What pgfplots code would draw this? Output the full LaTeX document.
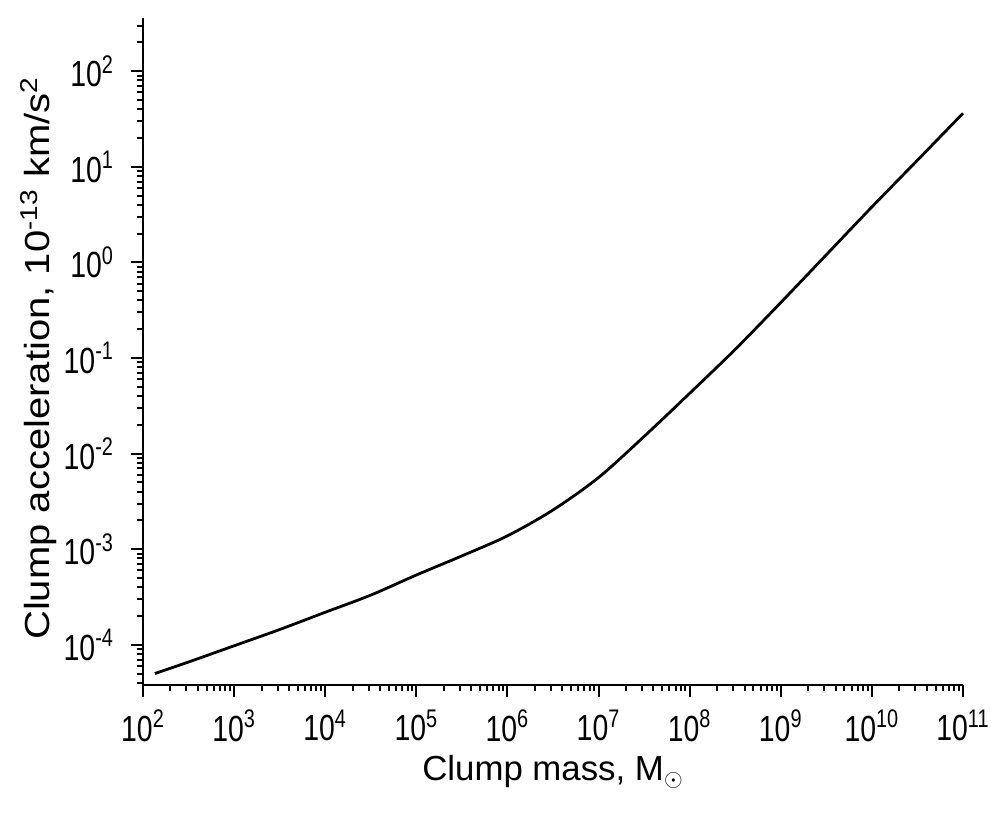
\documentclass[border=0pt]{standalone}
\usepackage{pgfplots}
\pgfplotsset{compat=1.18}
\usepackage{fontspec}
\setmainfont{Liberation Sans}
\begin{document}
\begin{tikzpicture}
\begin{axis}[
  at={(0,0)}, anchor=south west,
  scale only axis,
  width=410pt, height=333.5pt,
  xmode=log, ymode=log,
  log basis x=10, log basis y=10,
  xmin=1e2, xmax=1e11,
  ymin=3.8e-5, ymax=360,
  axis lines=left,
  axis line style={-, line width=1.3pt},
  tick align=outside,
  major tick length=6pt,
  minor tick length=3pt,
  every tick/.style={black, line width=1pt},
  xtick={1e2,1e3,1e4,1e5,1e6,1e7,1e8,1e9,1e10,1e11},
  ytick={1e-4,1e-3,1e-2,1e-1,1,1e1,1e2},
  minor xtick={2e2,3e2,4e2,5e2,6e2,7e2,8e2,9e2,
    2e3,3e3,4e3,5e3,6e3,7e3,8e3,9e3,
    2e4,3e4,4e4,5e4,6e4,7e4,8e4,9e4,
    2e5,3e5,4e5,5e5,6e5,7e5,8e5,9e5,
    2e6,3e6,4e6,5e6,6e6,7e6,8e6,9e6,
    2e7,3e7,4e7,5e7,6e7,7e7,8e7,9e7,
    2e8,3e8,4e8,5e8,6e8,7e8,8e8,9e8,
    2e9,3e9,4e9,5e9,6e9,7e9,8e9,9e9,
    2e10,3e10,4e10,5e10,6e10,7e10,8e10,9e10},
  minor ytick={4e-5,5e-5,6e-5,7e-5,8e-5,9e-5,
    2e-4,3e-4,4e-4,5e-4,6e-4,7e-4,8e-4,9e-4,
    2e-3,3e-3,4e-3,5e-3,6e-3,7e-3,8e-3,9e-3,
    2e-2,3e-2,4e-2,5e-2,6e-2,7e-2,8e-2,9e-2,
    0.2,0.3,0.4,0.5,0.6,0.7,0.8,0.9,
    2,3,4,5,6,7,8,9,
    20,30,40,50,60,70,80,90,
    200,300},
  xticklabel={\pgfmathtruncatemacro\e{\tick}\scalebox{1}[1.28]{10\textsuperscript{\e}}},
  yticklabel={\pgfmathtruncatemacro\e{\tick}\scalebox{1}[1.28]{10\textsuperscript{\e}}},
  ticklabel style={font=\fontsize{14.2}{17}\selectfont},
  xticklabel style={yshift=-3pt},
  yticklabel style={xshift=-5pt},
  xlabel={Clump mass, M\textsubscript{$\odot$}},
  ylabel={\scalebox{1.15}[1]{Clump acceleration, 10\textsuperscript{-13} km/s\textsuperscript{2}}},
  label style={font=\fontsize{17.4}{20}\selectfont},
  xlabel style={at={(axis description cs:0.5,-0.1439)}, anchor=base},
  ylabel style={at={(axis description cs:-0.1135,0.49)}, anchor=base},
  clip=false,
]
\addplot[black, line width=1.4pt, smooth] coordinates {
(1.35e2,5.01e-5)
(3.16e2,6.61e-5)
(1e3,9.77e-5)
(3.16e3,1.445e-4)
(1e4,2.19e-4)
(3.16e4,3.31e-4)
(1e5,5.37e-4)
(3.16e5,8.51e-4)
(1e6,1.38e-3)
(3.16e6,2.57e-3)
(1e7,5.62e-3)
(3.16e7,1.51e-2)
(1e8,4.27e-2)
(3.16e8,0.123)
(1e9,0.380)
(3.16e9,1.20)
(1e10,3.80)
(3.16e10,11.7)
(1e11,36.3)
};
\end{axis}
\pgfresetboundingbox
\path (-71.5pt,-66.5pt) rectangle (424.5pt,342.5pt);
\end{tikzpicture}
\end{document}
